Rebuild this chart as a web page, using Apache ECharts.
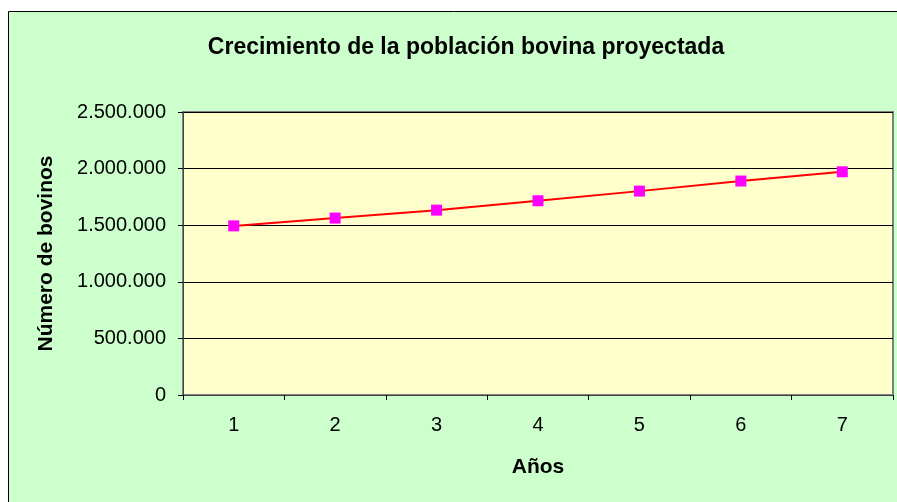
<!DOCTYPE html>
<html>
<head>
<meta charset="utf-8">
<script src="https://cdn.jsdelivr.net/npm/echarts@6/dist/echarts.min.js"></script>
<style>
  html, body { margin: 0; padding: 0; background: #fff; }
  #chart { width: 897px; height: 502px; }
</style>
</head>
<body>
<div id="chart"></div>
<script>
const years = ['1', '2', '3', '4', '5', '6', '7']
const bovinos = [1494000, 1563000, 1633000, 1716000, 1801000, 1890000, 1972000]
const yTicks = { min: 0, max: 2500000, interval: 500000 }

const fmt = (v) => String(v).replace(/\B(?=(\d{3})+(?!\d))/g, '.')
const font = '"Liberation Sans", Arial, sans-serif'

const chart = echarts.init(document.getElementById('chart'))
chart.setOption({
  animation: false,
  textStyle: { fontFamily: font },
  graphic: [{
    type: 'rect',
    z: -10,
    silent: true,
    shape: { x: 8.5, y: 11.5, width: 900, height: 500 },
    style: { fill: '#ccffcc', stroke: '#000', lineWidth: 1 },
  }],
  title: {
    text: 'Crecimiento de la población bovina proyectada',
    left: 461,
    textAlign: 'center',
    top: 31,
    textStyle: { fontFamily: font, fontSize: 23, fontWeight: 'bold', color: '#000' },
  },
  grid: {
    left: 183, top: 112, right: 4, bottom: 107,
    show: true,
    backgroundColor: '#ffffcc',
    borderColor: '#808080',
    borderWidth: 2,
  },
  xAxis: {
    type: 'category',
    data: years,
    boundaryGap: true,
    name: 'Años',
    nameLocation: 'middle',
    nameGap: 62,
    nameTextStyle: { fontFamily: font, fontSize: 21, fontWeight: 'bold', color: '#000' },
    axisLine: { lineStyle: { color: '#444', width: 1 } },
    axisTick: { show: true, length: 5, lineStyle: { color: '#000' } },
    axisLabel: { fontFamily: font, fontSize: 20, color: '#000', margin: 20 },
    splitLine: { show: false },
  },
  yAxis: {
    type: 'value',
    min: yTicks.min,
    max: yTicks.max,
    interval: yTicks.interval,
    name: 'Número de bovinos',
    nameLocation: 'middle',
    nameGap: 126,
    nameRotate: 90,
    nameTextStyle: { fontFamily: font, fontSize: 21, fontWeight: 'bold', color: '#000' },
    axisLine: { show: true, lineStyle: { color: '#444', width: 1 } },
    axisTick: { show: true, length: 5, lineStyle: { color: '#000' } },
    axisLabel: { fontFamily: font, fontSize: 20, color: '#000', margin: 17, formatter: fmt },
    splitLine: { show: true, lineStyle: { color: '#000', width: 1 } },
  },
  series: [{
    type: 'line',
    data: bovinos,
    symbol: 'rect',
    symbolSize: 11,
    itemStyle: { color: '#ff00ff' },
    lineStyle: { color: '#ff0000', width: 2 },
  }],
})
</script>
</body>
</html>
